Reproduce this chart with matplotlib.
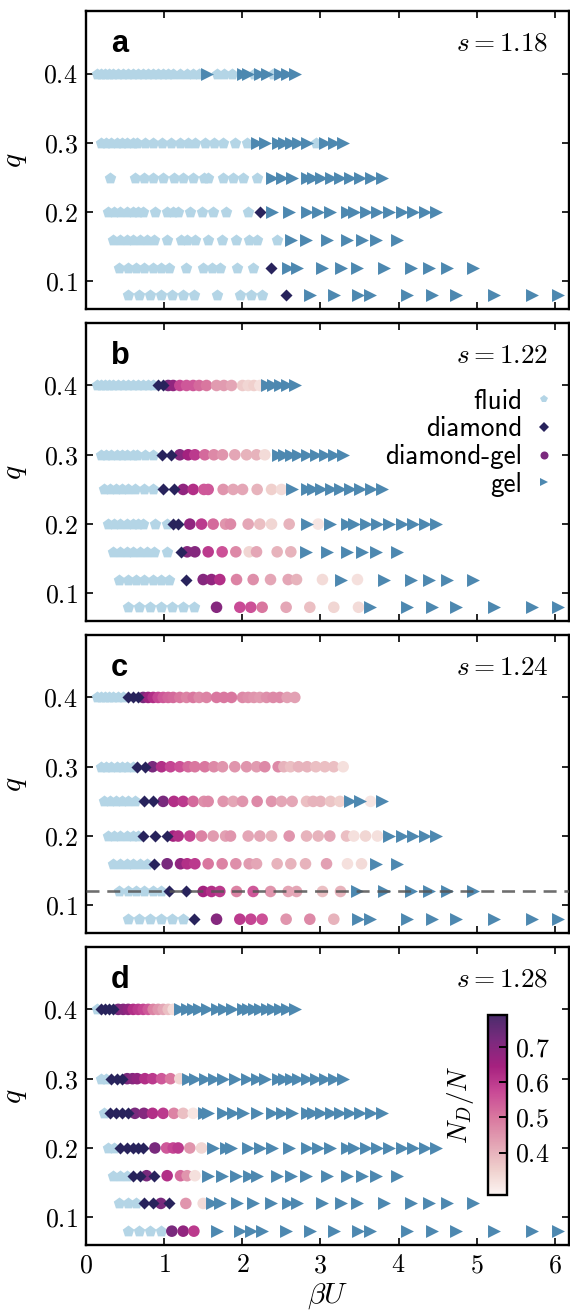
import numpy as np
import matplotlib.pyplot as plt
from matplotlib.colors import LinearSegmentedColormap, Normalize
from matplotlib.lines import Line2D

plt.rcParams['font.family'] = 'serif'
plt.rcParams['font.serif'] = ['cmr10']
plt.rcParams['mathtext.fontset'] = 'cm'
plt.rcParams['axes.formatter.use_mathtext'] = True
plt.rcParams['font.size'] = 11

# size ratio q for each row of state points
Q_ROWS = [0.4, 0.3, 0.25, 0.2, 0.16, 0.12, 0.08]

# beta*U values simulated on each row
BU_40 = [0.142, 0.194, 0.245, 0.296, 0.347, 0.411, 0.475, 0.539, 0.603, 0.667,
         0.731, 0.795, 0.859, 0.923, 0.987, 1.051, 1.115, 1.200, 1.286, 1.371,
         1.448, 1.542, 1.670, 1.764, 1.862, 2.003, 2.075, 2.148, 2.224, 2.310,
         2.395, 2.480, 2.574, 2.672]
BU_30 = [0.185, 0.253, 0.322, 0.390, 0.458, 0.526, 0.595, 0.654, 0.753, 0.851,
         0.966, 1.081, 1.200, 1.307, 1.393, 1.520, 1.636, 1.747, 1.904, 2.054,
         2.182, 2.288, 2.459, 2.532, 2.617, 2.719, 2.830, 2.941, 3.056, 3.171,
         3.291]
BU_25 = [0.228, 0.305, 0.381, 0.458, 0.535, 0.625, 0.740, 0.851, 0.987, 1.124,
         1.243, 1.371, 1.508, 1.563, 1.755, 1.883, 2.003, 2.190, 2.374, 2.502,
         2.638, 2.822, 2.907, 3.001, 3.129, 3.248, 3.376, 3.504, 3.641, 3.782]
BU_20 = [0.283, 0.356, 0.433, 0.518, 0.603, 0.667, 0.731, 0.881, 1.030, 1.115,
         1.179, 1.328, 1.478, 1.627, 1.785, 1.849, 2.075, 2.224, 2.374, 2.600,
         2.822, 2.971, 3.120, 3.334, 3.427, 3.577, 3.730, 3.880, 4.038, 4.187,
         4.336, 4.485]
BU_16 = [0.347, 0.433, 0.518, 0.603, 0.689, 0.774, 0.868, 1.038, 1.209, 1.294,
         1.393, 1.563, 1.742, 1.917, 2.088, 2.182, 2.446, 2.621, 2.809, 3.078,
         3.346, 3.526, 3.705, 3.974]
BU_12 = [0.424, 0.531, 0.637, 0.744, 0.851, 0.957, 1.064, 1.277, 1.499, 1.606,
         1.712, 1.926, 2.139, 2.361, 2.587, 2.694, 3.026, 3.257, 3.474, 3.816,
         4.157, 4.387, 4.614, 4.955]
BU_08 = [0.539, 0.680, 0.817, 0.957, 1.098, 1.243, 1.380, 1.670, 1.968, 2.109,
         2.254, 2.561, 2.864, 3.171, 3.487, 3.632, 4.102, 4.422, 4.741, 5.224,
         5.714, 6.043]
BU_ROWS = [BU_40, BU_30, BU_25, BU_20, BU_16, BU_12, BU_08]

S_VALUES = [1.18, 1.22, 1.24, 1.28]
LETTERS = ['a', 'b', 'c', 'd']

# phase of every state point: f fluid, d diamond, m diamond-gel, g gel, . none
PHASE_A = ["f" * 21 + "gfffggfggfggg",
           "f" * 20 + "g" * 7 + "f" + "ggg",
           ".f..." + "f" * 13 + "g" * 12,
           "f" * 15 + "." + "f" + "d" + "g" * 14,
           "f" * 17 + "g" * 7,
           "f" * 13 + "d" + "g" * 10,
           "f" * 11 + "d" + "g" * 10]
ND_A = [[], [], [], [], [], [], []]

PHASE_B = ["f" * 13 + "dd" + "m" * 14 + "g" * 5,
           "f" * 10 + "dd" + "m" * 10 + "g" * 9,
           "f" * 8 + "dd" + "m" * 10 + "g" * 10,
           "f" * 9 + "dd" + "m" * 9 + "g" + "m" + "g" * 10,
           "f" * 8 + "d" + "m" * 9 + "g" * 6,
           "f" * 7 + "d" + "m" * 9 + "g" + "m" + "g" * 5,
           "f" * 7 + "m" * 8 + "g" * 7]
ND_B = [[0.72, 0.68, 0.58, 0.55, 0.55, 0.52, 0.50, 0.44, 0.44, 0.42, 0.36, 0.34, 0.35, 0.32],
        [0.70, 0.65, 0.60, 0.52, 0.47, 0.45, 0.42, 0.40, 0.40, 0.33],
        [0.68, 0.62, 0.55, 0.55, 0.45, 0.42, 0.42, 0.40, 0.35, 0.33],
        [0.68, 0.60, 0.52, 0.45, 0.47, 0.42, 0.38, 0.34, 0.40, 0.31],
        [0.70, 0.70, 0.60, 0.56, 0.47, 0.34, 0.42, 0.40, 0.40],
        [0.70, 0.68, 0.62, 0.48, 0.46, 0.42, 0.42, 0.40, 0.33, 0.32],
        [0.70, 0.57, 0.56, 0.50, 0.42, 0.38, 0.34, 0.33]]

PHASE_C = ["f" * 7 + "ddd" + "m" * 24,
           "f" * 7 + "dd" + "m" * 22,
           "f" * 6 + "dd" + "m" * 18 + "gg" + "m" + "g",
           "f" * 6 + "ddd" + "m" * 18 + "g" * 5,
           "f" * 6 + "d" + "m" * 15 + "gg",
           "f" * 6 + "dd" + "m" * 10 + "g" * 6,
           "f" * 6 + "d" + "m" * 7 + "g" * 8]
ND_C = [[0.72, 0.66, 0.62, 0.58, 0.55, 0.53, 0.52, 0.50, 0.48, 0.50, 0.47, 0.48,
         0.50, 0.50, 0.50, 0.47, 0.46, 0.45, 0.44, 0.46, 0.47, 0.47, 0.43, 0.43],
        [0.72, 0.62, 0.58, 0.56, 0.52, 0.50, 0.50, 0.47, 0.45, 0.45, 0.45,
         0.44, 0.47, 0.47, 0.40, 0.38, 0.40, 0.40, 0.38, 0.38, 0.38, 0.32],
        [0.72, 0.62, 0.60, 0.52, 0.46, 0.47, 0.45, 0.42, 0.45, 0.47, 0.45,
         0.42, 0.42, 0.38, 0.40, 0.40, 0.37, 0.35, 0.31],
        [0.65, 0.62, 0.58, 0.48, 0.44, 0.43, 0.45, 0.42, 0.42, 0.40, 0.45,
         0.40, 0.40, 0.42, 0.38, 0.32, 0.34, 0.32],
        [0.72, 0.68, 0.62, 0.60, 0.50, 0.48, 0.46, 0.44, 0.42, 0.40, 0.40,
         0.40, 0.43, 0.32, 0.33],
        [0.65, 0.62, 0.60, 0.48, 0.55, 0.45, 0.42, 0.42, 0.38, 0.40],
        [0.70, 0.60, 0.58, 0.56, 0.45, 0.47, 0.40]]

PHASE_D = ["f" + "dddd" + "m" * 12 + "g" * 17,
           "ff" + "ddd" + "m" * 8 + "g" * 18,
           "f" + "dddd" + "m" * 7 + "g" * 18,
           "ff" + "ddddd" + "m" * 6 + "g" * 19,
           "fff" + "dd" + "m" + "d" + "mmmm" + "g" * 13,
           "fff" + "dd" + "m" + "d" + "mm" + "g" * 15,
           "ffff" + "mmm" + "g" * 15]
ND_D = [[0.72, 0.70, 0.68, 0.62, 0.60, 0.58, 0.55, 0.48, 0.45, 0.42, 0.38, 0.33],
        [0.72, 0.70, 0.68, 0.62, 0.60, 0.55, 0.50, 0.34],
        [0.72, 0.70, 0.62, 0.60, 0.48, 0.38, 0.31],
        [0.72, 0.55, 0.58, 0.60, 0.45, 0.34],
        [0.72, 0.62, 0.52, 0.45, 0.32],
        [0.72, 0.45, 0.33],
        [0.72, 0.68, 0.60]]

PHASES = [PHASE_A, PHASE_B, PHASE_C, PHASE_D]
NDS = [ND_A, ND_B, ND_C, ND_D]

FLUID_C = '#b4d5e6'
DIAMOND_C = '#28235c'
GEL_C = '#4d88b0'
cmap = LinearSegmentedColormap.from_list(
    'nd', ['#fcf4f2', '#efcfcc', '#e3a3b4', '#d9789f', '#c94a96',
           '#a6217f', '#7b2a7e', '#4b2c6c'])
norm = Normalize(vmin=0.28, vmax=0.79)

fig = plt.figure(figsize=(570 / 170, 1314 / 170), dpi=170)
bottoms = [0.7647, 0.5273, 0.2899, 0.0525]

for k in range(4):
    ax = fig.add_axes([0.151, bottoms[k], 0.847, 0.2268])
    fx, fy, dx, dy, gx, gy, mx, my, mc = [], [], [], [], [], [], [], [], []
    for q, bu, ph, nd in zip(Q_ROWS, BU_ROWS, PHASES[k], NDS[k]):
        j = 0
        for x, p in zip(bu, ph):
            if p == 'f':
                fx.append(x); fy.append(q)
            elif p == 'd':
                dx.append(x); dy.append(q)
            elif p == 'g':
                gx.append(x); gy.append(q)
            elif p == 'm':
                mx.append(x); my.append(q); mc.append(nd[j]); j += 1

    ax.scatter(fx, fy, marker='p', s=26, color=FLUID_C, linewidths=0, zorder=2)
    ax.scatter(mx, my, marker='o', s=24, c=mc, cmap=cmap, norm=norm,
               linewidths=0, zorder=3)
    ax.scatter(dx, dy, marker='D', s=13, color=DIAMOND_C, linewidths=0, zorder=4)
    ax.scatter(gx, gy, marker='>', s=30, color=GEL_C, linewidths=0, zorder=5)

    ax.set_xlim(0, 6.18)
    ax.set_ylim(0.06, 0.49)
    ax.set_xticks([0, 1, 2, 3, 4, 5, 6])
    ax.set_yticks([0.1, 0.2, 0.3, 0.4])
    ax.tick_params(direction='in', top=True, right=True, length=3, width=0.7,
                   labelsize=11, labelbottom=(k == 3))
    for sp in ax.spines.values():
        sp.set_linewidth(1.0)
    ax.set_ylabel('$q$', fontsize=12.5, labelpad=6)

    ax.text(0.052, 0.89, LETTERS[k], transform=ax.transAxes, ha='left',
            va='center', fontsize=13, fontweight='bold', family='Liberation Sans')
    ax.text(0.958, 0.89, '$s = %.2f$' % S_VALUES[k], transform=ax.transAxes,
            ha='right', va='center', fontsize=11.5)

    if k == 1:
        handles = [
            Line2D([], [], ls='none', marker='p', ms=3.6, color=FLUID_C, mew=0),
            Line2D([], [], ls='none', marker='D', ms=2.7, color=DIAMOND_C, mew=0),
            Line2D([], [], ls='none', marker='o', ms=3.4, color='#7b2a7e', mew=0),
            Line2D([], [], ls='none', marker='>', ms=3.8, color=GEL_C, mew=0)]
        ax.legend(handles, ['fluid', 'diamond', 'diamond-gel', 'gel'],
                  loc='upper right', bbox_to_anchor=(0.971, 0.78),
                  markerfirst=False, frameon=False, borderpad=0,
                  borderaxespad=0, handlelength=0.8, handletextpad=0.4,
                  labelspacing=0.1, prop={'family': 'cmss10', 'size': 11.5})
    if k == 2:
        ax.axhline(0.12, color='#555555', lw=1.1, ls=(0, (5, 3)), alpha=0.85,
                   zorder=6)
    if k == 3:
        ax.set_xlabel(r'$\beta U$', fontsize=12.5, labelpad=2)

cax = fig.add_axes([0.856, 0.0906, 0.0333, 0.137])
sm = plt.cm.ScalarMappable(norm=norm, cmap=cmap)
cb = fig.colorbar(sm, cax=cax)
cb.set_ticks([0.4, 0.5, 0.6, 0.7])
cax.tick_params(direction='in', length=3.5, width=0.8, labelsize=11)
cb.outline.set_linewidth(1.0)
cb.set_label('$N_D/N$', fontsize=11.5, labelpad=5)
cax.yaxis.set_label_position('left')

fig.savefig('out.png', dpi=170)
